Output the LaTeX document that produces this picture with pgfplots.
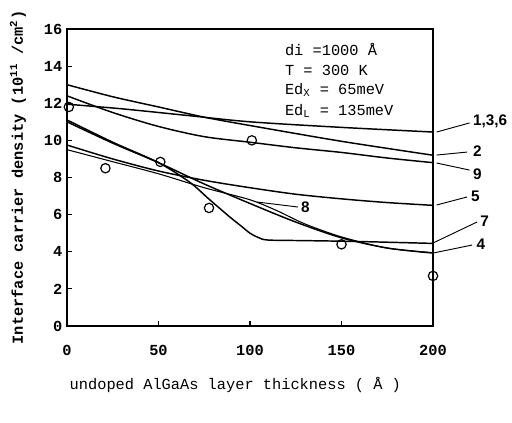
\documentclass[border=0pt]{standalone}
\usepackage{fontspec}
\setmainfont{Liberation Mono}
\newfontfamily\sansf{Liberation Sans}
\usepackage{pgfplots}
\pgfplotsset{compat=1.18}
\usetikzlibrary{calc}
\newcommand{\ff}{\fontsize{11.5}{13}\selectfont}
\newcommand{\cf}{\sansf\fontsize{11.5}{13}\selectfont\bfseries}

\begin{document}
\begin{tikzpicture}
\begin{axis}[
  scale only axis,
  width=274.5pt, height=222.75pt,
  xmin=0, xmax=200, ymin=0, ymax=16,
  xtick={0,50,...,200}, ytick={0,2,...,16},
  xtick pos=bottom, ytick pos=left,
  tick align=inside, major tick length=4pt,
  axis line style={line width=0.9pt},
  every tick/.style={black, line width=0.8pt},
  ticklabel style={font=\ff\bfseries},
  /pgf/number format/assume math mode=true,
  xticklabel style={yshift=-11pt},
  xlabel={undoped AlGaAs layer thickness ( Å )},
  ylabel={\bfseries Interface carrier density (10\textsuperscript{11} /cm\textsuperscript{2})},
  label style={font=\ff},
  xlabel style={at={(axis description cs:0.46,-0.199)}, anchor=center},
  ylabel style={at={(axis description cs:-0.134,0.5)}, anchor=center},
  clip=false,
  every axis plot/.append style={line width=1.1pt, black},
]
% 1,3,6
\addplot[smooth] coordinates {(0,11.95)(30,11.7)(65,11.35)(100,11.0)(150,10.7)(200,10.45)};
% 2
\addplot[smooth] coordinates {(0,13.0)(25,12.35)(50,11.8)(75,11.25)(100,10.8)(150,9.95)(200,9.2)};
% 9
\addplot[smooth] coordinates {(0,12.4)(25,11.5)(50,10.75)(75,10.2)(100,9.9)(125,9.6)(150,9.35)(175,9.05)(200,8.8)};
% 5
\addplot[smooth] coordinates {(0,9.75)(25,9.0)(50,8.35)(75,7.85)(100,7.45)(125,7.1)(150,6.85)(175,6.65)(200,6.5)};
% 8
\addplot[smooth, line width=0.8pt] coordinates {(0,9.5)(25,8.85)(50,8.2)(75,7.45)(100,6.8)(115,6.2)(130,5.5)(150,4.8)(175,4.2)(200,3.95)};
% 4
\addplot[smooth] coordinates {(0,11.0)(25,9.85)(50,8.8)(75,7.65)(100,6.6)(125,5.6)(150,4.75)(175,4.2)(200,3.93)};
% 7
\addplot[smooth] coordinates {(0,11.1)(25,9.9)(50,8.8)(67,7.75)(78,6.8)(89,5.87)(95,5.4)(100,5.0)(105,4.75)(110,4.63)(130,4.6)(160,4.55)(200,4.45)};
% measured points
\addplot[only marks, mark=o, mark size=3.5pt, line width=0.9pt] coordinates
  {(1,11.8)(21,8.5)(51,8.84)(77.6,6.36)(101,10.0)(150,4.4)(200,2.7)};

% leaders and curve numbers
\draw[line width=0.7pt] (axis cs:202,10.45) -- (axis cs:220,10.94);
\node[anchor=west, font=\cf, inner sep=1pt] at (axis cs:221,11.05) {1,3,6};
\draw[line width=0.7pt] (axis cs:202,9.21) -- (axis cs:218.6,9.37);
\node[anchor=west, font=\cf, inner sep=1pt] at (axis cs:221,9.4) {2};
\draw[line width=0.7pt] (axis cs:202,8.78) -- (axis cs:220,8.40);
\node[anchor=west, font=\cf, inner sep=1pt] at (axis cs:221,8.2) {9};
\draw[line width=0.7pt] (axis cs:202,6.52) -- (axis cs:218.6,6.95);
\node[anchor=west, font=\cf, inner sep=1pt] at (axis cs:220,7.0) {5};
\draw[line width=0.7pt] (axis cs:200,4.47) -- (axis cs:224,5.6);
\node[anchor=west, font=\cf, inner sep=1pt] at (axis cs:225,5.65) {7};
\draw[line width=0.7pt] (axis cs:200,3.93) -- (axis cs:221.3,4.36);
\node[anchor=west, font=\cf, inner sep=1pt] at (axis cs:223,4.4) {4};
\draw[line width=0.7pt] (axis cs:103.8,6.68) -- (axis cs:126.2,6.41);
\node[anchor=west, font=\cf, inner sep=1pt] at (axis cs:127,6.4) {8};

% conditions
\node[anchor=west, font=\ff, inner sep=0pt] at (axis cs:119,14.87) {di =1000 Å};
\node[anchor=west, font=\ff, inner sep=0pt] at (axis cs:119,13.79) {T = 300 K};
\node[anchor=west, font=\ff, inner sep=0pt] at (axis cs:119,12.72) {Ed\textsubscript{X} = 65meV};
\node[anchor=west, font=\ff, inner sep=0pt] at (axis cs:119,11.58) {Ed\textsubscript{L} = 135meV};

\coordinate (ll) at (rel axis cs:0,0);
\coordinate (ur) at (rel axis cs:1,1);
\end{axis}
\pgfresetboundingbox
\path[use as bounding box] ($(ll)+(-50.25pt,-72pt)$) rectangle ($(ur)+(59.25pt,21.75pt)$);
\end{tikzpicture}
\end{document}
